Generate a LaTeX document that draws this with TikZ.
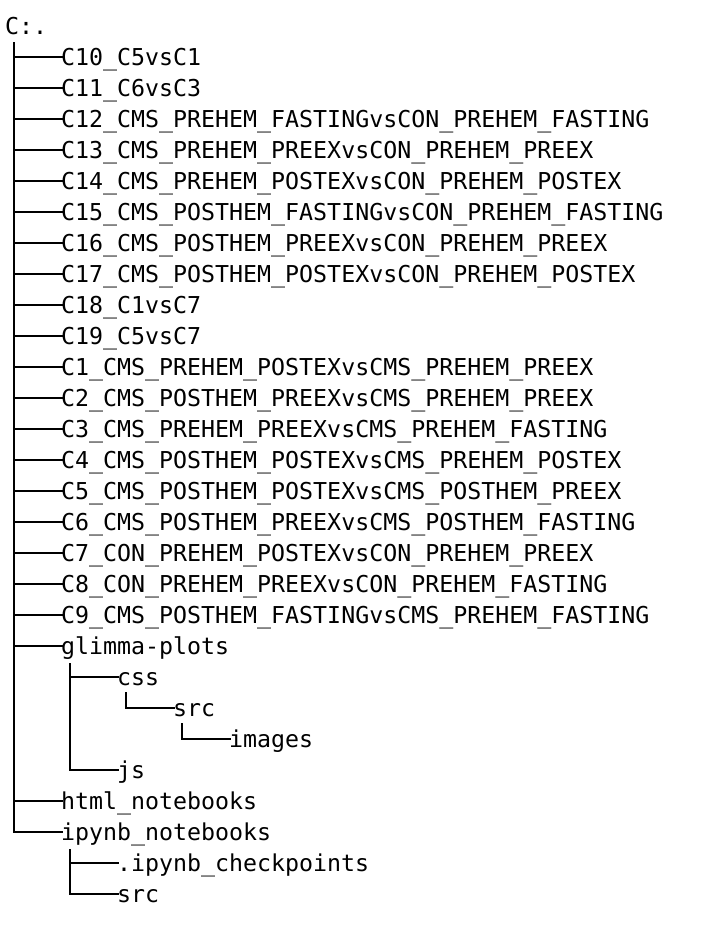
\documentclass[tikz,border=0pt]{standalone}
\usepackage{fontspec}
\setmonofont{DejaVu Sans Mono}
\usetikzlibrary{calc}
\tikzset{
  entry/.style={anchor=west, inner sep=0pt, text height=17pt, text depth=0pt,
    font=\ttfamily\fontsize{23.26}{31}\selectfont},
  branch/.style={line width=2pt, line join=miter}
}
\newcommand{\rowy}[1]{-(26+31*#1)}
\begin{document}
\begin{tikzpicture}[x=1pt,y=1pt]
\useasboundingbox (0,0) rectangle (707,-932);
\node[entry] (n0) at (5,{\rowy{0}}) {C:.};
\foreach \i/\t in {1/C10\_C5vsC1, 2/C11\_C6vsC3,
  3/C12\_CMS\_PREHEM\_FASTINGvsCON\_PREHEM\_FASTING,
  4/C13\_CMS\_PREHEM\_PREEXvsCON\_PREHEM\_PREEX,
  5/C14\_CMS\_PREHEM\_POSTEXvsCON\_PREHEM\_POSTEX,
  6/C15\_CMS\_POSTHEM\_FASTINGvsCON\_PREHEM\_FASTING,
  7/C16\_CMS\_POSTHEM\_PREEXvsCON\_PREHEM\_PREEX,
  8/C17\_CMS\_POSTHEM\_POSTEXvsCON\_PREHEM\_POSTEX,
  9/C18\_C1vsC7, 10/C19\_C5vsC7,
  11/C1\_CMS\_PREHEM\_POSTEXvsCMS\_PREHEM\_PREEX,
  12/C2\_CMS\_POSTHEM\_PREEXvsCMS\_PREHEM\_PREEX,
  13/C3\_CMS\_PREHEM\_PREEXvsCMS\_PREHEM\_FASTING,
  14/C4\_CMS\_POSTHEM\_POSTEXvsCMS\_PREHEM\_POSTEX,
  15/C5\_CMS\_POSTHEM\_POSTEXvsCMS\_POSTHEM\_PREEX,
  16/C6\_CMS\_POSTHEM\_PREEXvsCMS\_POSTHEM\_FASTING,
  17/C7\_CON\_PREHEM\_POSTEXvsCON\_PREHEM\_PREEX,
  18/C8\_CON\_PREHEM\_PREEXvsCON\_PREHEM\_FASTING,
  19/C9\_CMS\_POSTHEM\_FASTINGvsCMS\_PREHEM\_FASTING,
  20/glimma-plots, 25/html\_notebooks, 26/ipynb\_notebooks}
{
  \node[entry] (n\i) at (61,{\rowy{\i}}) {\t};
  \draw[branch] ($(n0.south west)+(9,-7.5)$) |- ($(n\i.west)+(1.5,0)$);
}
% glimma-plots children
\node[entry] (n21) at (117,{\rowy{21}}) {css};
\node[entry] (n24) at (117,{\rowy{24}}) {js};
\draw[branch] ($(n20.south west)+(9,-8.5)$) |- ($(n21.west)+(1.5,0)$);
\draw[branch] ($(n20.south west)+(9,-8.5)$) |- ($(n24.west)+(1.5,0)$);
\node[entry] (n22) at (173,{\rowy{22}}) {src};
\draw[branch] ($(n21.south west)+(9,-6.5)$) |- ($(n22.west)+(1.5,0)$);
\node[entry] (n23) at (229,{\rowy{23}}) {images};
\draw[branch] ($(n22.south west)+(9,-6.5)$) |- ($(n23.west)+(1.5,0)$);
% ipynb_notebooks children
\node[entry] (n27) at (117,{\rowy{27}}) {.ipynb\_checkpoints};
\node[entry] (n28) at (117,{\rowy{28}}) {src};
\draw[branch] ($(n26.south west)+(9,-8.5)$) |- ($(n27.west)+(1.5,0)$);
\draw[branch] ($(n26.south west)+(9,-8.5)$) |- ($(n28.west)+(1.5,0)$);
\end{tikzpicture}
\end{document}
